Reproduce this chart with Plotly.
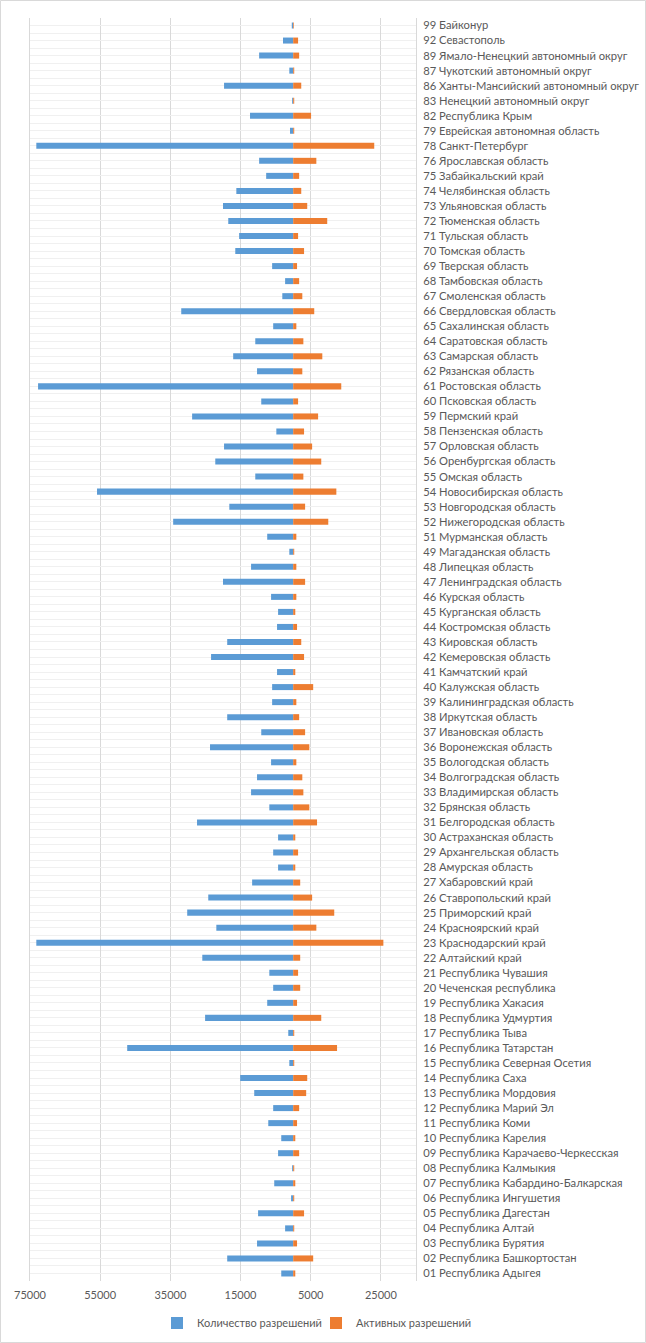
import plotly.graph_objects as go

# ---- data (top to bottom as displayed) ----
categories = [
    "99 Байконур", "92 Севастополь", "89 Ямало-Ненецкий автономный округ",
    "87 Чукотский автономный округ", "86 Ханты-Мансийский автономный округ",
    "83 Ненецкий автономный округ", "82 Республика Крым", "79 Еврейская автономная область",
    "78 Санкт-Петербург", "76 Ярославская область", "75 Забайкальский край",
    "74 Челябинская область", "73 Ульяновская область", "72 Тюменская область",
    "71 Тульская область", "70 Томская область", "69 Тверская область",
    "68 Тамбовская область", "67 Смоленская область", "66 Свердловская область",
    "65 Сахалинская область", "64 Саратовская область", "63 Самарская область",
    "62 Рязанская область", "61 Ростовская область", "60 Псковская область",
    "59 Пермский край", "58 Пензенская область", "57 Орловская область",
    "56 Оренбургская область", "55 Омская область", "54 Новосибирская область",
    "53 Новгородская область", "52 Нижегородская область", "51 Мурманская область",
    "49 Магаданская область", "48 Липецкая область", "47 Ленинградская область",
    "46 Курская область", "45 Курганская область", "44 Костромская область",
    "43 Кировская область", "42 Кемеровская область", "41 Камчатский край",
    "40 Калужская область", "39 Калининградская область", "38 Иркутская область",
    "37 Ивановская область", "36 Воронежская область", "35 Вологодская область",
    "34 Волгоградская область", "33 Владимирская область", "32 Брянская область",
    "31 Белгородская область", "30 Астраханская область", "29 Архангельская область",
    "28 Амурская область", "27 Хабаровский край", "26 Ставропольский край",
    "25 Приморский край", "24 Красноярский край", "23 Краснодарский край",
    "22 Алтайский край", "21 Республика Чувашия", "20 Чеченская республика",
    "19 Республика Хакасия", "18 Республика Удмуртия", "17 Республика Тыва",
    "16 Республика Татарстан", "15 Республика Северная Осетия", "14 Республика Саха",
    "13 Республика Мордовия", "12 Республика Марий Эл", "11 Республика Коми",
    "10 Республика Карелия", "09 Республика Карачаево-Черкесская",
    "08 Республика Калмыкия", "07 Республика Кабардино-Балкарская",
    "06 Республика Ингушетия", "05 Республика Дагестан", "04 Республика Алтай",
    "03 Республика Бурятия", "02 Республика Башкортостан", "01 Республика Адыгея",
]

permits_total = [
    400, 2900, 9700, 1100, 19700, 300, 12300, 900,
    73200, 9700, 7700, 16200, 20000, 18500, 15400, 16500, 6000, 2300, 3100, 31900,
    5700, 10800, 17100, 10300, 72700, 9100, 28800, 4800, 19700, 22200, 10800, 55900,
    18200, 34200, 7400, 1100, 12000, 20000, 6300, 4300, 4600, 18800, 23400, 4600,
    6000, 6000, 18800, 9100, 23700, 6300, 10300, 12000, 6800, 27400, 4300, 5700,
    4300, 11700, 24200, 30200, 21900, 73200, 25900, 6800, 5700, 7400, 25100, 1400,
    47300, 1100, 15100, 11100, 5700, 7100, 3400, 4300, 300, 5400, 600, 10000,
    2300, 10300, 18800, 3400,
]

permits_active = [
    200, 1400, 1700, 300, 2300, 300, 5100, 300,
    23100, 6600, 1700, 2300, 4000, 9700, 1400, 3100, 1100, 1700, 2600, 6000,
    900, 2900, 8300, 2600, 13700, 1400, 7100, 3100, 5400, 8000, 2900, 12300,
    3400, 10000, 900, 300, 900, 3400, 900, 600, 1100, 2300, 3100, 600,
    5700, 900, 1700, 3400, 4600, 900, 2600, 2900, 4600, 6800, 600, 1400,
    600, 2000, 5400, 11700, 6600, 25700, 2000, 1400, 2000, 1100, 8000, 300,
    12500, 300, 4000, 3700, 1700, 1100, 600, 1700, 300, 600, 300, 3100,
    300, 1100, 5700, 600,
]

x_tick_values = [-75000, -55000, -35000, -15000, 5000, 25000]
x_tick_labels = ["75000", "55000", "35000", "15000", "5000", "25000"]
x_range = [-75000, 35000]

series_names = ["Количество разрешений", "Активных разрешений"]
colors = ["#5B9BD5", "#ED7D31"]

# ---- layout geometry ----
W, H = 646, 1343
ML, MR, MT, MB = 30, 230, 18, 62
PW, PH = W - ML - MR, H - MT - MB
FONT = "Lato"
TXT = "#595959"

pos = list(range(len(categories)))

fig = go.Figure()
fig.add_trace(go.Bar(
    y=pos, x=[-v for v in permits_total], orientation="h",
    name=series_names[0], marker=dict(color=colors[0], line=dict(width=0)),
))
fig.add_trace(go.Bar(
    y=pos, x=permits_active, orientation="h",
    name=series_names[1], marker=dict(color=colors[1], line=dict(width=0)),
))

fig.update_layout(
    width=W, height=H,
    margin=dict(l=ML, r=MR, t=MT, b=MB, pad=0, autoexpand=False),
    barmode="relative", bargap=0.6,
    plot_bgcolor="white", paper_bgcolor="white",
    font=dict(family=FONT, size=11, color=TXT),
    showlegend=True,
    legend=dict(
        orientation="h", x=(316 - ML) / PW, xanchor="center",
        y=-(1323 - (H - MB)) / PH, yanchor="middle",
        font=dict(family=FONT, size=11, color=TXT),
        itemwidth=30, tracegroupgap=0, entrywidth=114, entrywidthmode="pixels",
    ),
    xaxis=dict(
        range=x_range, tickmode="array", tickvals=x_tick_values, ticktext=x_tick_labels,
        showgrid=True, gridcolor="#d9d9d9", gridwidth=1, zeroline=False,
        ticks="", showline=False, ticklabelstandoff=6, automargin=False,
        tickfont=dict(family=FONT, size=11, color=TXT),
        fixedrange=True,
    ),
    yaxis=dict(
        range=[len(categories) - 0.5, -0.5], tickmode="array", tickvals=pos,
        ticktext=categories, side="right", showgrid=True, gridcolor="#f0f0f0",
        gridwidth=1, zeroline=False, ticks="", automargin=False,
        minor=dict(tick0=0.5, dtick=1, showgrid=True, gridcolor="#f0f0f0", ticks=""),
        showline=True, mirror=True, linecolor="#d9d9d9", linewidth=1,
        ticklabelstandoff=4, tickfont=dict(family=FONT, size=11.2, color=TXT),
        fixedrange=True,
    ),
    shapes=[dict(
        type="rect", xref="paper", yref="paper",
        x0=(0.5 - ML) / PW, x1=(W - 0.5 - ML) / PW,
        y0=-(MB - 0.5) / PH, y1=1 + (MT - 0.5) / PH,
        line=dict(color="#d9d9d9", width=1), fillcolor="rgba(0,0,0,0)", layer="below",
    )],
)

fig.write_html(
    "out.html",
    config={"displayModeBar": False, "staticPlot": True},
    post_script=(
        "var gd=document.getElementById('{plot_id}');"
        "gd.style.position='fixed';gd.style.left='0px';gd.style.top='0px';"
        "document.body.style.margin='0';document.body.style.overflow='hidden';"
    ),
)
